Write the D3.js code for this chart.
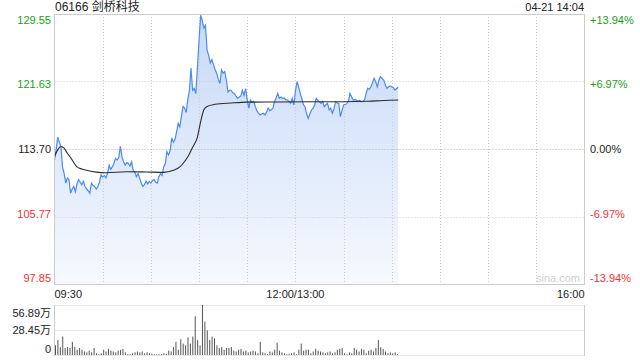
<!DOCTYPE html>
<html>
<head>
<meta charset="utf-8">
<script src="https://cdn.jsdelivr.net/npm/d3@7"></script>
<style>
body { margin: 0; background: #fff; }
text { font-family: "Liberation Sans", Arial, "Noto Sans CJK SC", sans-serif; }
</style>
</head>
<body>
<div id="chart"></div>
<script>
// data
var title = "06166 剑桥科技";
var stamp = "04-21 14:04";
var prevClose = 113.70;
var priceTicks = [129.55, 121.63, 113.70, 105.77, 97.85];
var pctTicks = ["+13.94%", "+6.97%", "0.00%", "-6.97%", "-13.94%"];
var timeLabels = ["09:30", "12:00/13:00", "16:00"];
var timeLabelMin = [0, 150, 330];
var volTicks = ["56.89万", "28.45万", "0"];
var volMax = 56.89;

// one price per minute from 09:30 (minute 0) to 14:04 (minute 214)
var price = [
112.4,113.6,115.1,114.5,114.0,111.6,110.8,109.7,110.3,110.1,
108.5,109.0,109.3,108.7,109.6,110.1,109.8,109.5,109.9,109.3,
109.0,108.8,108.5,109.7,109.4,109.3,109.0,109.3,109.8,110.65,
110.4,110.6,110.3,110.85,111.8,111.3,111.6,112.0,112.6,112.4,
112.7,114.0,112.8,112.2,111.8,112.1,112.0,111.7,112.2,111.2,
111.0,110.45,110.8,110.3,109.7,109.3,109.5,109.9,109.6,109.9,
109.7,110.0,110.1,109.8,109.7,110.45,110.8,110.6,111.6,112.0,
113.4,113.0,113.5,115.0,114.5,114.8,115.7,116.7,116.3,117.5,
118.7,118.5,118.0,119.5,120.6,123.2,120.6,120.8,120.2,123.2,
126.5,129.4,128.8,127.9,128.2,125.3,124.7,123.8,124.2,123.6,
123.0,122.6,121.9,121.4,123.0,122.6,122.8,121.8,120.4,120.6,
120.6,120.3,120.2,119.9,119.65,119.8,119.9,120.6,120.0,120.8,
119.5,118.5,119.45,119.2,119.3,118.7,118.2,117.9,117.7,117.8,
117.9,117.7,118.0,118.5,118.2,118.3,118.5,119.25,119.7,120.24,
119.65,119.8,119.65,119.7,119.5,119.45,119.3,119.06,119.65,118.87,
120.5,121.6,121.0,120.24,119.6,118.9,118.67,117.8,117.3,117.8,
118.28,118.5,118.87,119.65,119.4,119.25,119.06,119.25,118.67,118.9,
119.06,118.28,118.5,117.9,118.4,119.25,119.1,119.06,117.5,118.2,
118.87,118.9,119.06,119.3,120.24,119.8,119.45,119.5,119.45,119.3,
119.4,119.25,119.3,119.45,120.2,120.83,120.7,121.0,121.5,122.0,
121.6,121.0,121.8,122.2,122.0,121.8,121.2,120.83,121.0,121.1,
121.0,120.9,120.63,120.8,120.94
];

// average price line, sampled at these minutes
var avgMin = [0,2,4,6,8,10,12,14,17,20,26,32,45,57,68,74,78,80,83,86,89,91,93,95,100,110,120,140,160,180,195,205,214];
var avgPrice = [112.8,113.6,114.0,113.8,113.2,112.7,112.1,111.6,111.35,111.2,110.98,110.92,111.03,111.0,110.96,111.2,111.6,112.0,112.8,113.9,115.1,116.9,118.3,118.7,118.95,119.1,119.2,119.22,119.25,119.25,119.3,119.4,119.45];

// volume (万), one bar every 1.5 minutes
var volStep = 1.5;
var volume = [
11,17,9,21,8,9,8,15,9,6,8,6,4,3,5,3,8,2,1,2,
6,4,7,5,4,3,5,6,7,3,1,1,2,3,4,3,4,2,3,2,
1.5,1,1,1,1,2,1.5,5,4,9,15,6,18,13,11,20,13,21,44,17,
11,57,38,28,17,21,19,11,8,9,6,8,8,9,5,4,6,7,4,5,
3,4,5,4,2,15,3,2,1,4,3,6,14,5,3,2,1,1.5,2,3,
1,6,13,5,6,6,2,4,7,5,4,3,2,3,4,2,3,6,7,8,
2,1,3,2,8,6,4,7,6,2,5,6,4,8,17,9,7,4,2,3,
2,3,1
];

var plotL = 54.5, plotR = 584.5;
var plotT = 14, plotB = 284;
var volT = 305, volB = 355;

var x = d3.scaleLinear().domain([0, 330]).range([plotL, plotR]);
var y = d3.scaleLinear().domain([97.85, 129.55]).range([plotB, plotT]);
var yv = d3.scaleLinear().domain([0, volMax]).range([volB, volT]);

var svg = d3.select("#chart").append("svg")
     .attr("width", 640)
     .attr("height", 360);

var grad = svg.append("defs").append("linearGradient")
     .attr("id", "fillGrad")
     .attr("gradientUnits", "userSpaceOnUse")
     .attr("x1", 0).attr("y1", plotT)
     .attr("x2", 0).attr("y2", plotB);
grad.append("stop").attr("offset", "0%").attr("stop-color", "#c6d9f7");
grad.append("stop").attr("offset", "100%").attr("stop-color", "#f6f9fe");

// price area first, grid drawn over it
var area = d3.area()
     .x(function (d, i) { return x(i); })
     .y0(plotB)
     .y1(function (d) { return y(d); });

svg.append("path")
     .datum(price)
     .attr("d", area)
     .attr("fill", "url(#fillGrad)");

// grid, every 30 minutes
var gridMin = d3.range(30, 330, 30);
svg.append("g").selectAll("line")
     .data(gridMin)
     .enter().append("line")
     .attr("x1", function (d) { return Math.round(x(d)) + 0.5; })
     .attr("x2", function (d) { return Math.round(x(d)) + 0.5; })
     .attr("y1", plotT)
     .attr("y2", plotB)
     .attr("stroke", "#cccccc")
     .attr("stroke-dasharray", "1,2");

svg.append("g").selectAll("line")
     .data(priceTicks.slice(1, 4))
     .enter().append("line")
     .attr("x1", plotL)
     .attr("x2", plotR)
     .attr("y1", function (d) { return Math.round(y(d)) + 0.5; })
     .attr("y2", function (d) { return Math.round(y(d)) + 0.5; })
     .attr("stroke", function (d) { return d === prevClose ? "#b0b0b0" : "#cccccc"; })
     .attr("stroke-dasharray", "1,2");

var line = d3.line()
     .x(function (d, i) { return x(i); })
     .y(function (d) { return y(d); });

svg.append("path")
     .datum(price)
     .attr("d", line)
     .attr("fill", "none")
     .attr("stroke", "#4a8af4")
     .attr("stroke-width", 1.2);

var avgLine = d3.line()
     .curve(d3.curveMonotoneX)
     .x(function (d, i) { return x(avgMin[i]); })
     .y(function (d) { return y(d); });

svg.append("path")
     .datum(avgPrice)
     .attr("d", avgLine)
     .attr("fill", "none")
     .attr("stroke", "#2b2b2b")
     .attr("stroke-width", 1.1);

// frame
svg.append("rect")
     .attr("x", plotL).attr("y", plotT + 0.5)
     .attr("width", plotR - plotL).attr("height", plotB - plotT)
     .attr("fill", "none")
     .attr("stroke", "#cccccc");

svg.append("text")
     .attr("x", 580).attr("y", 282)
     .attr("text-anchor", "end")
     .attr("font-size", 11)
     .attr("fill", "#cfcfcf")
     .text("sina.com");

// labels
function tickColor(i) {
     if (i < 2) return "#1a9e1a";
     if (i > 2) return "#ee3333";
     return "#222";
}
var labelY = [20, 84, 149, 214, 278];

svg.append("g").selectAll("text")
     .data(priceTicks)
     .enter().append("text")
     .attr("x", 51)
     .attr("y", function (d, i) { return labelY[i]; })
     .attr("dy", "0.35em")
     .attr("text-anchor", "end")
     .attr("font-size", 11)
     .attr("fill", function (d, i) { return tickColor(i); })
     .text(function (d) { return d3.format(".2f")(d); });

svg.append("g").selectAll("text")
     .data(pctTicks)
     .enter().append("text")
     .attr("x", 590)
     .attr("y", function (d, i) { return labelY[i]; })
     .attr("dy", "0.35em")
     .attr("font-size", 11)
     .attr("fill", function (d, i) { return tickColor(i); })
     .text(function (d) { return d; });

svg.append("text")
     .attr("x", 55).attr("y", 11)
     .attr("font-size", 12)
     .attr("fill", "#222")
     .text(title);

svg.append("text")
     .attr("x", 584).attr("y", 11)
     .attr("text-anchor", "end")
     .attr("font-size", 11)
     .attr("fill", "#222")
     .text(stamp);

svg.append("g").selectAll("text")
     .data(timeLabels)
     .enter().append("text")
     .attr("x", function (d, i) { return x(timeLabelMin[i]); })
     .attr("y", 298)
     .attr("text-anchor", function (d, i) { return ["start", "middle", "end"][i]; })
     .attr("font-size", 11)
     .attr("fill", "#222")
     .text(function (d) { return d; });

// volume panel
svg.append("g").selectAll("line")
     .data([volMax, volMax / 2, 0])
     .enter().append("line")
     .attr("x1", plotL)
     .attr("x2", plotR)
     .attr("y1", function (d) { return Math.round(yv(d)) + 0.5; })
     .attr("y2", function (d) { return Math.round(yv(d)) + 0.5; })
     .attr("stroke", "#cfcfcf")
     .attr("stroke-dasharray", "1,1");

svg.append("line")
     .attr("x1", plotL).attr("x2", plotL)
     .attr("y1", volT).attr("y2", volB + 1)
     .attr("stroke", "#cccccc");
svg.append("line")
     .attr("x1", plotR).attr("x2", plotR)
     .attr("y1", volT).attr("y2", volB + 1)
     .attr("stroke", "#cccccc");

svg.append("g").selectAll("rect")
     .data(volume)
     .enter().append("rect")
     .attr("x", function (d, i) { return x(i * volStep) + 0.5; })
     .attr("y", function (d) { return yv(d); })
     .attr("width", 1)
     .attr("height", function (d) { return volB - yv(d); })
     .attr("fill", "#555");

var volLabelY = [313, 330, 349];
svg.append("g").selectAll("text")
     .data(volTicks)
     .enter().append("text")
     .attr("x", 51)
     .attr("y", function (d, i) { return volLabelY[i]; })
     .attr("dy", "0.35em")
     .attr("text-anchor", "end")
     .attr("font-size", 11)
     .attr("fill", "#222")
     .text(function (d) { return d; });
</script>
</body>
</html>
